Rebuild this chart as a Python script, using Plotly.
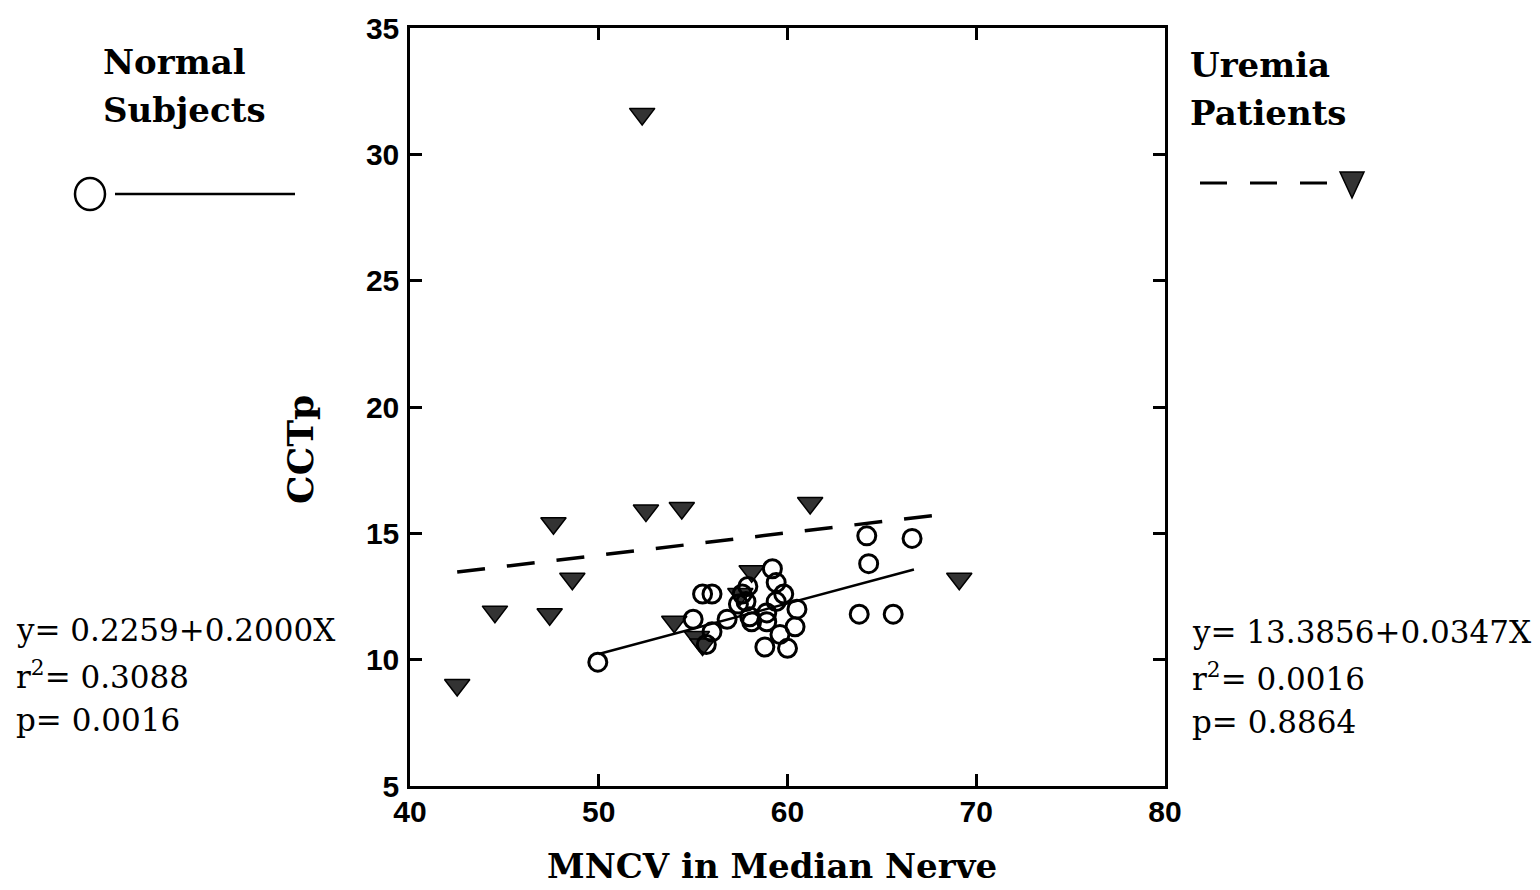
import plotly.graph_objects as go

# --- data -------------------------------------------------------------
# Normal subjects: MNCV (m/s) vs CCTp (ms)
normal_x = [49.95, 55.0, 55.7, 56.0, 56.8, 55.5, 56.0, 57.6, 57.8, 58.0,
            59.2, 59.4, 59.4, 58.1, 58.9, 58.9, 60.5, 60.4, 59.6, 58.8,
            60.0, 57.9, 59.8, 57.4, 64.2, 64.3, 66.6, 63.8, 65.6]
normal_y = [9.9, 11.6, 10.6, 11.1, 11.6, 12.6, 12.6, 12.6, 12.3, 11.7,
            13.6, 13.05, 12.3, 11.5, 11.5, 11.85, 12.0, 11.3, 11.0, 10.5,
            10.45, 12.9, 12.6, 12.2, 14.9, 13.8, 14.8, 11.8, 11.8]

# Uremia patients
uremia_x = [52.3, 42.5, 44.5, 47.6, 47.4, 48.6, 52.5, 54.4, 54.0, 61.2,
            69.1, 58.1, 55.2, 55.5, 57.5]
uremia_y = [31.6, 9.0, 11.9, 15.4, 11.8, 13.2, 15.9, 16.0, 11.5, 16.2,
            13.2, 13.5, 10.9, 10.6, 12.6]

# Regression lines
normal_intercept, normal_slope = 0.2259, 0.2000
normal_fit_x = [50.0, 66.7]
uremia_fit_x = [42.5, 68.0]
uremia_fit_y = [13.47, 15.73]

x_ticks = [40, 50, 60, 70, 80]
y_ticks = [5, 10, 15, 20, 25, 30, 35]

left_stats = ["y= 0.2259+0.2000X", "r<sup>2</sup>= 0.3088", "p= 0.0016"]
right_stats = ["y= 13.3856+0.0347X", "r<sup>2</sup>= 0.0016", "p= 0.8864"]

# --- layout geometry (pixels) ----------------------------------------
W, H = 1540, 890
L, R, T, B = 410, 1165, 28, 786


def px(xp):
    return (xp - L) / (R - L)


def py(yp):
    return (B - yp) / (B - T)


SLAB = "DejaVu Serif"
SANS = "Liberation Sans"

fig = go.Figure()

fig.add_trace(go.Scatter(
    x=uremia_fit_x, y=uremia_fit_y, mode="lines",
    line=dict(color="black", width=3.5, dash="28px,22px"),
    showlegend=False, hoverinfo="skip"))

normal_fit_y = [normal_intercept + normal_slope * v for v in normal_fit_x]
fig.add_trace(go.Scatter(
    x=normal_fit_x, y=normal_fit_y, mode="lines",
    line=dict(color="black", width=2.5),
    showlegend=False, hoverinfo="skip"))

fig.add_trace(go.Scatter(
    x=uremia_x, y=uremia_y, mode="markers",
    marker=dict(symbol="triangle-down", size=22, color="#333333",
                line=dict(color="black", width=1.5)),
    showlegend=False))

fig.add_trace(go.Scatter(
    x=normal_x, y=normal_y, mode="markers",
    marker=dict(symbol="circle-open", size=18, color="black",
                line=dict(width=3)),
    showlegend=False))

axis_common = dict(
    showgrid=False, zeroline=False, showline=True, linecolor="black",
    linewidth=2.5, mirror="ticks", ticks="inside", ticklen=12,
    tickwidth=2.5, tickcolor="black",
    tickfont=dict(family=SANS, size=30, color="black", weight="bold"),
)

fig.update_xaxes(range=[40, 80], tickvals=x_ticks, ticklabelstandoff=-3,
                 **axis_common)
fig.update_yaxes(range=[5, 35], tickvals=y_ticks, ticklabelstandoff=2,
                 **axis_common)

annotations = []


def text(x, y, s, size, family, bold=False, xanchor="left"):
    annotations.append(dict(
        x=px(x), y=py(y), xref="paper", yref="paper", text=s,
        showarrow=False, xanchor=xanchor, yanchor="middle",
        font=dict(family=family, size=size, color="black",
                  weight="bold" if bold else "normal")))


# axis titles
text(772, 866, "MNCV in Median Nerve", 34, SLAB, bold=True, xanchor="center")
annotations.append(dict(
    x=px(300), y=py(450), xref="paper", yref="paper", text="CCTp",
    textangle=-90, showarrow=False, xanchor="center", yanchor="middle",
    font=dict(family=SLAB, size=36, color="black", weight="bold")))

# group headings
text(101, 62, "Normal", 34, SLAB, bold=True)
text(101, 110, "Subjects", 34, SLAB, bold=True)
text(1188, 65, "Uremia", 34, SLAB, bold=True)
text(1188, 113, "Patients", 34, SLAB, bold=True)

# regression statistics
for i, s in enumerate(left_stats):
    text(14, 630 + i * 45, s, 31, SLAB)
for i, s in enumerate(right_stats):
    text(1190, 632 + i * 45, s, 31, SLAB)

shapes = []
# key for normal subjects: open circle + solid line
shapes.append(dict(type="circle", xref="paper", yref="paper",
                   x0=px(75), x1=px(105), y0=py(178), y1=py(210),
                   line=dict(color="black", width=2.5)))
shapes.append(dict(type="line", xref="paper", yref="paper",
                   x0=px(115), x1=px(295), y0=py(194), y1=py(194),
                   line=dict(color="black", width=2.5)))
# key for uremia patients: dashed line + filled triangle
for x0 in (1200, 1250, 1300):
    shapes.append(dict(type="line", xref="paper", yref="paper",
                       x0=px(x0), x1=px(x0 + 27), y0=py(183), y1=py(183),
                       line=dict(color="black", width=3)))
tri = "M {:.4f},{:.4f} L {:.4f},{:.4f} L {:.4f},{:.4f} Z".format(
    px(1340), py(172), px(1364), py(172), px(1352), py(198))
shapes.append(dict(type="path", xref="paper", yref="paper", path=tri,
                   fillcolor="#333333", line=dict(color="black", width=1.5)))

fig.update_layout(
    width=W, height=H,
    margin=dict(l=L, r=W - R, t=T, b=H - B),
    paper_bgcolor="white", plot_bgcolor="white",
    annotations=annotations, shapes=shapes,
    showlegend=False,
)

fig.write_html("out.html")
